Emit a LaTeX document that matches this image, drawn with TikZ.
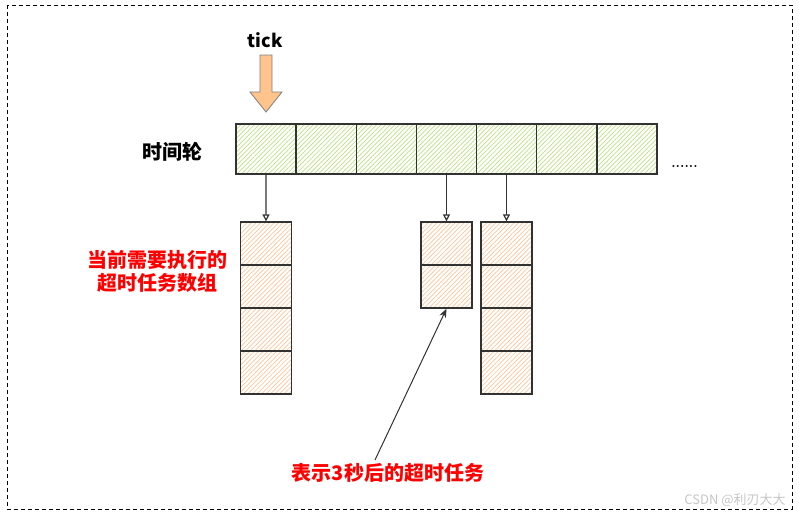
\documentclass[tikz,border=0pt]{standalone}
\usepackage{fontspec}
\newfontfamily\cjk{Noto Sans CJK SC}
\usetikzlibrary{arrows.meta,patterns.meta}
\definecolor{hatchgreen}{RGB}{185,225,130}
\definecolor{hatchorange}{RGB}{255,195,150}
\definecolor{tickfill}{RGB}{255,195,140}
\definecolor{boxline}{RGB}{50,50,50}
\tikzset{
  slot/.style={draw=boxline, line width=1.3pt, minimum width=60.1pt, minimum height=50pt, inner sep=0pt,
    pattern={Lines[angle=45,distance=3.2pt,line width=0.7pt]}, pattern color=hatchgreen},
  cell/.style={draw=boxline, line width=1.3pt, minimum width=51pt, minimum height=43pt, inner sep=0pt,
    pattern={Lines[angle=45,distance=3.2pt,line width=0.7pt]}, pattern color=hatchorange},
  redtext/.style={text=red, font=\cjk\bfseries\fontsize{20}{23}\selectfont, align=center},
  link/.style={boxline, line width=1.2pt, -{Triangle[open,length=7pt,width=7pt]}}
}
\begin{document}
\begin{tikzpicture}[x=1pt, y=-1pt]
    \useasboundingbox (0,0) rectangle (799,515);
    \draw[line width=0.9pt, dash pattern=on 4pt off 3pt] (7,5) rectangle (792,509);

    % tick arrow
    \node[font=\cjk\bfseries\fontsize{18}{20}\selectfont] (tick) at (265,40) {tick};
    \draw[fill=tickfill, draw=gray, line width=0.8pt]
      (260,55) -- (272,55) -- (272,92) -- (282,92) -- (266,112) -- (250,92) -- (260,92) -- cycle;

    % time wheel
    \node[font=\cjk\bfseries\fontsize{20}{23}\selectfont] (wheel) at (172,152) {时间轮};
    \foreach \i in {1,...,7}
      \node[slot] (s\i) at ({266.07+60.14*(\i-1)},149) {};
    \node[font=\bfseries\fontsize{14}{16}\selectfont, inner sep=0pt] (more) at (684.5,166) {......};

    % task arrays
    \foreach \j in {1,...,4}
      \node[cell] (a\j) at (266,{243.5+43*(\j-1)}) {};
    \foreach \j in {1,2}
      \node[cell] (b\j) at (446.5,{243.5+43*(\j-1)}) {};
    \foreach \j in {1,...,4}
      \node[cell] (c\j) at (506.5,{243.5+43*(\j-1)}) {};

    \draw[link] (s1.south) -- (a1.north);
    \draw[link] (s4.south -| b1.north) -- (b1.north);
    \draw[link] (s5.south -| c1.north) -- (c1.north);

    \node[redtext] (current) at (157,271) {当前需要执行的\\超时任务数组};
    \node[redtext] (later) at (388,473) {表示3秒后的超时任务};
    \draw[boxline, line width=1pt, -{Stealth[length=9pt,width=7pt]}] ([xshift=-13pt]later.north) -- (b2.south);

    \node[text=gray!45, font=\cjk\fontsize{13}{15}\selectfont] (mark) at (735,500) {CSDN @利刃大大};
\end{tikzpicture}
\end{document}
